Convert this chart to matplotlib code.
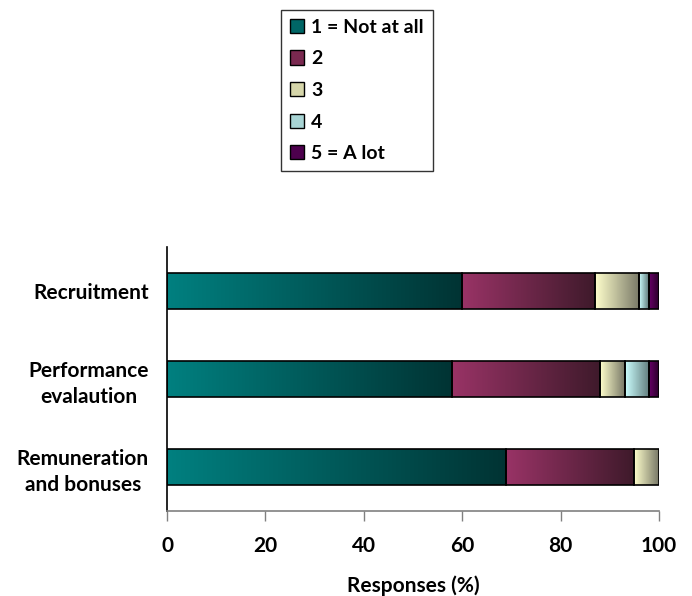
import numpy as np
import matplotlib
matplotlib.use("Agg")
import matplotlib.pyplot as plt
from matplotlib.colors import LinearSegmentedColormap
from matplotlib.patches import Patch

categories = ["Recruitment", "Performance\nevalaution", "Remuneration\nand bonuses"]
series_names = ["1 = Not at all", "2", "3", "4", "5 = A lot"]
values = {
    "1 = Not at all": [60, 58, 69],
    "2": [27, 30, 26],
    "3": [9, 5, 5],
    "4": [2, 5, 0],
    "5 = A lot": [2, 2, 0],
}
xticks = [0, 20, 40, 60, 80, 100]

grad_left = ["#008080", "#993366", "#ffffcc", "#ccffff", "#660066"]
grad_right = ["#003333", "#3f1a2b", "#777766", "#5f7a7a", "#2a002a"]
legend_cols = ["#006666", "#7a2950", "#d6d6aa", "#a8d4d4", "#4d004d"]

plt.rcParams['font.family'] = ['Lato', 'DejaVu Sans']
plt.rcParams['font.weight'] = 'bold'

fig = plt.figure(figsize=(6.92, 5.96), dpi=100)
W, H = 692, 596
ax = fig.add_axes([167 / W, 1 - 511 / H, (659 - 167) / W, (511 - 247) / H])

ypos = np.arange(len(categories))[::-1]  # top to bottom
bar_h = 0.405
left = np.zeros(len(categories))
for i, name in enumerate(series_names):
    vals = np.array(values[name], dtype=float)
    bars = ax.barh(ypos, vals, left=left, height=bar_h, facecolor='none',
                   edgecolor='black', linewidth=1.2, zorder=3)
    cmap = LinearSegmentedColormap.from_list(f"g{i}", [grad_left[i], grad_right[i]])
    grad = np.linspace(0, 1, 256).reshape(1, -1)
    for b, v in zip(bars, vals):
        if v <= 0:
            b.set_visible(False)
            continue
        x0, y0 = b.get_x(), b.get_y()
        ax.imshow(grad, cmap=cmap, aspect='auto', interpolation='bicubic',
                  extent=(x0, x0 + b.get_width(), y0, y0 + b.get_height()), zorder=2)
    left += vals

ax.set_xlim(0, 100)
ax.set_ylim(-0.5, len(categories) - 0.5)
ax.set_xticks(xticks)
ax.set_xticklabels([str(t) for t in xticks], fontsize=15, fontweight='bold')
ax.set_yticks(ypos)
ax.set_yticklabels(categories, fontsize=15, fontweight='bold',
                   multialignment='center', linespacing=1.35)
ax.tick_params(axis='y', length=0, pad=13)
ax.tick_params(axis='x', length=7, width=1, color='#808080', pad=11)
for s in ['top', 'right']:
    ax.spines[s].set_visible(False)
ax.spines['left'].set_color('black')
ax.spines['left'].set_linewidth(1.2)
ax.spines['bottom'].set_color('#808080')
ax.spines['bottom'].set_linewidth(1.2)
ax.set_xlabel("Responses (%)", fontsize=15, fontweight='bold', labelpad=14)

handles = [Patch(facecolor=c, edgecolor='black', linewidth=1) for c in legend_cols]
leg = fig.legend(handles, series_names, loc='upper left',
                 bbox_to_anchor=(281 / W, 1 - 10 / H), fancybox=False,
                 frameon=True, prop={'weight': 'bold', 'size': 14},
                 handlelength=0.75, handleheight=0.75, handletextpad=0.35,
                 labelspacing=0.75, borderpad=0.45, borderaxespad=0)
leg.get_frame().set_edgecolor('black')
leg.get_frame().set_linewidth(1)

fig.savefig("out.png", dpi=100)
